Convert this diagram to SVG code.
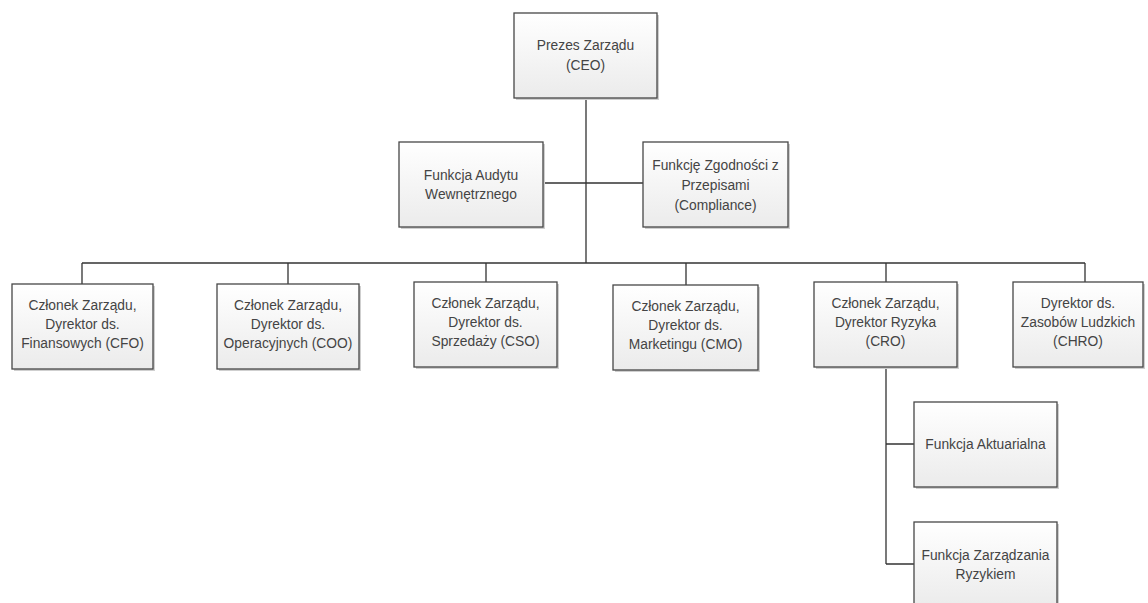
<svg xmlns="http://www.w3.org/2000/svg" width="1148" height="603" viewBox="0 0 1148 603">
<defs>
<linearGradient id="g" x1="0" y1="0" x2="0" y2="1">
<stop offset="0" stop-color="#ffffff"/>
<stop offset="1" stop-color="#ebebeb"/>
</linearGradient>
<style>
.box{fill:url(#g);stroke:#474747;stroke-width:1.3}
.sh{fill:#cfcfcf}
.t{font-family:"Liberation Sans",Arial,sans-serif;font-size:13.8px;fill:#444;text-anchor:middle}
.c{stroke:#333;stroke-width:1.3;fill:none}
</style>
</defs>
<rect width="1148" height="603" fill="#fff"/>
<g id="connectors">
<path class="c" d="M586 98V263M543 183H643M82 263H1085M82 263V284M288 263V284M486 263V282M686 263V285M886 263V282M1085 263V282M886 367V564M886 444H914M886 564H914"/>
</g>
<g id="ceo"><rect class="sh" x="516" y="15" width="143" height="85"/><rect class="box" x="514" y="13" width="143" height="85"/><text class="t" x="585.5" y="50">Prezes Zarządu</text><text class="t" x="585.5" y="70">(CEO)</text></g>
<g id="audit"><rect class="sh" x="401" y="144" width="144" height="85"/><rect class="box" x="399" y="142" width="144" height="85"/><text class="t" x="471" y="180">Funkcja Audytu</text><text class="t" x="471" y="199">Wewnętrznego</text></g>
<g id="compliance"><rect class="sh" x="645" y="144" width="145" height="85"/><rect class="box" x="643" y="142" width="145" height="85"/><text class="t" x="715.5" y="170">Funkcję Zgodności z</text><text class="t" x="715.5" y="190">Przepisami</text><text class="t" x="715.5" y="210">(Compliance)</text></g>
<g id="cfo"><rect class="sh" x="14" y="286" width="141" height="85"/><rect class="box" x="12" y="284" width="141" height="85"/><text class="t" x="82.5" y="310">Członek Zarządu,</text><text class="t" x="82.5" y="329">Dyrektor ds.</text><text class="t" x="82.5" y="348">Finansowych (CFO)</text></g>
<g id="coo"><rect class="sh" x="219" y="286" width="142" height="85"/><rect class="box" x="217" y="284" width="142" height="85"/><text class="t" x="288" y="310">Członek Zarządu,</text><text class="t" x="288" y="329">Dyrektor ds.</text><text class="t" x="288" y="348">Operacyjnych (COO)</text></g>
<g id="cso"><rect class="sh" x="416" y="284" width="143" height="85"/><rect class="box" x="414" y="282" width="143" height="85"/><text class="t" x="485.5" y="308">Członek Zarządu,</text><text class="t" x="485.5" y="327">Dyrektor ds.</text><text class="t" x="485.5" y="346">Sprzedaży (CSO)</text></g>
<g id="cmo"><rect class="sh" x="615" y="287" width="145" height="85"/><rect class="box" x="613" y="285" width="145" height="85"/><text class="t" x="685.5" y="311">Członek Zarządu,</text><text class="t" x="685.5" y="330">Dyrektor ds.</text><text class="t" x="685.5" y="349">Marketingu (CMO)</text></g>
<g id="cro"><rect class="sh" x="816" y="284" width="143" height="85"/><rect class="box" x="814" y="282" width="143" height="85"/><text class="t" x="885.5" y="308">Członek Zarządu,</text><text class="t" x="885.5" y="327">Dyrektor Ryzyka</text><text class="t" x="885.5" y="346">(CRO)</text></g>
<g id="chro"><rect class="sh" x="1015" y="284" width="130" height="85"/><rect class="box" x="1013" y="282" width="130" height="85"/><text class="t" x="1078" y="308">Dyrektor ds.</text><text class="t" x="1078" y="327">Zasobów Ludzkich</text><text class="t" x="1078" y="346">(CHRO)</text></g>
<g id="aktuarialna"><rect class="sh" x="916" y="404" width="143" height="85"/><rect class="box" x="914" y="402" width="143" height="85"/><text class="t" x="985.5" y="449">Funkcja Aktuarialna</text></g>
<g id="ryzyko"><rect class="sh" x="916" y="524" width="143" height="85"/><rect class="box" x="914" y="522" width="143" height="85"/><text class="t" x="985.5" y="560">Funkcja Zarządzania</text><text class="t" x="985.5" y="579">Ryzykiem</text></g>
</svg>
